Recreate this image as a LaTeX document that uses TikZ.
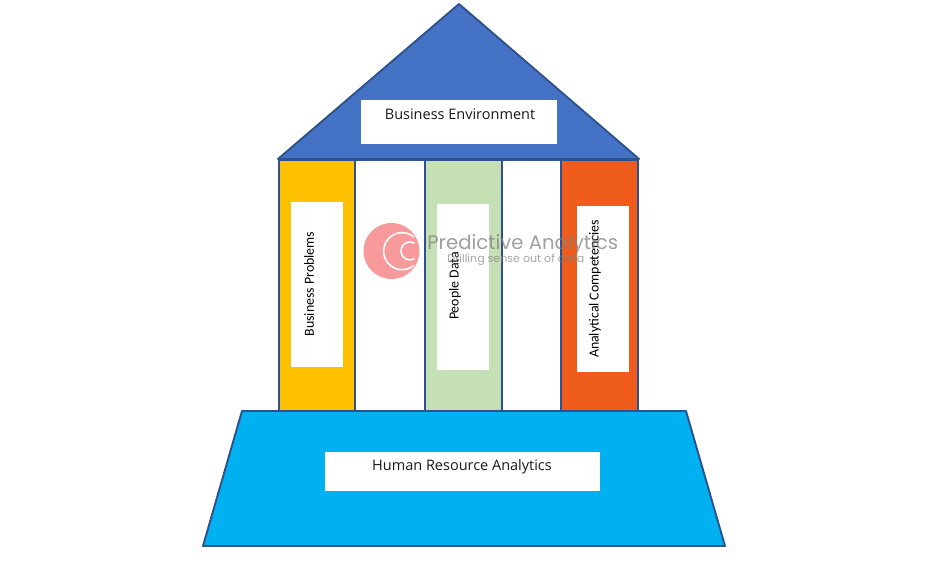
\documentclass[tikz,border=0pt]{standalone}
\usepackage{fontspec}
\setmainfont{Open Sans}
\newfontfamily\tallfont{Carlito}
\newfontfamily\markfont{Poppins}
\definecolor{roofblue}{HTML}{4472C4}
\definecolor{edgeblue}{HTML}{2F528F}
\definecolor{baseblue}{HTML}{00B0F0}
\definecolor{pillaryellow}{HTML}{FFC000}
\definecolor{pillargreen}{HTML}{C5E0B4}
\definecolor{pillarorange}{HTML}{F05C1C}
\definecolor{markpink}{HTML}{F89A9C}
\tikzset{
    part/.style={draw=edgeblue, line width=1.1pt, line join=round},
    pillar/.style={part, minimum height=5.02cm, inner sep=0pt},
    labelbox/.style={fill=white, inner sep=0pt},
    labeltext/.style={font=\fontsize{8.25}{10}\selectfont, text=black!90},
    sidetext/.style={font=\tallfont\fontsize{7.9}{10}\selectfont, text=black, rotate=90},
    markring/.style={white, line width=0.9pt},
}
\begin{document}
\begin{tikzpicture}[x=0.02cm, y=-0.02cm]
    \useasboundingbox (0, 0) rectangle (941, 570);
    % base and roof
    \draw[part, fill=baseblue] (242, 411) -- (686, 411) -- (725, 546) -- (203, 546) -- cycle;
    \draw[part, fill=roofblue] (459, 4) -- (639, 159) -- (278, 159) -- cycle;
    % pillars
    \node[pillar, fill=pillaryellow, minimum width=1.52cm] (problems) at (317, 285.5) {};
    \node[pillar, minimum width=1.4cm] (gapleft) at (390, 285.5) {};
    \node[pillar, fill=pillargreen, minimum width=1.54cm] (people) at (463.5, 285.5) {};
    \node[pillar, minimum width=1.18cm] (gapright) at (531.5, 285.5) {};
    \node[pillar, fill=pillarorange, minimum width=1.54cm] (competencies) at (599.5, 285.5) {};
    % white label boxes
    \node[labelbox, minimum width=3.92cm, minimum height=0.88cm] (envbox) at (459, 122) {};
    \node[labelbox, minimum width=1.04cm, minimum height=3.3cm] (problemsbox) at (317, 284.5) {};
    \node[labelbox, minimum width=1.04cm, minimum height=3.32cm] (peoplebox) at (463, 287) {};
    \node[labelbox, minimum width=1.04cm, minimum height=3.32cm] (competenciesbox) at (603, 289) {};
    \node[labelbox, minimum width=5.5cm, minimum height=0.78cm] (hrbox) at (462.5, 471.5) {};
    % label texts
    \node[labeltext] (envtext) at (460, 114.5) {Business Environment};
    \node[sidetext] (problemstext) at (309, 284) {Business Problems};
    \node[sidetext] (peopletext) at (455, 286) {People Data};
    \node[sidetext] (competenciestext) at (595, 289) {Analytical Competencies};
    \node[labeltext] (hrtext) at (462, 467) {Human Resource Analytics};
    % watermark
    \fill[markpink] (391.5, 251) circle (28);
    \draw[markring] (414, 237) arc (-50:-310:18.5);
    \draw[markring] (414.5, 243.2) arc (-60:-300:9);
    \node[text=gray, opacity=0.75, font=\markfont\fontsize{11.2}{13}\selectfont, anchor=west, inner sep=0pt] (markname) at (427, 245) {Predictive Analytics};
    \node[text=gray, opacity=0.7, font=\markfont\fontsize{6.3}{8}\selectfont, anchor=west, inner sep=0pt] (markline) at (447, 260) {Drilling sense out of data};
\end{tikzpicture}
\end{document}
